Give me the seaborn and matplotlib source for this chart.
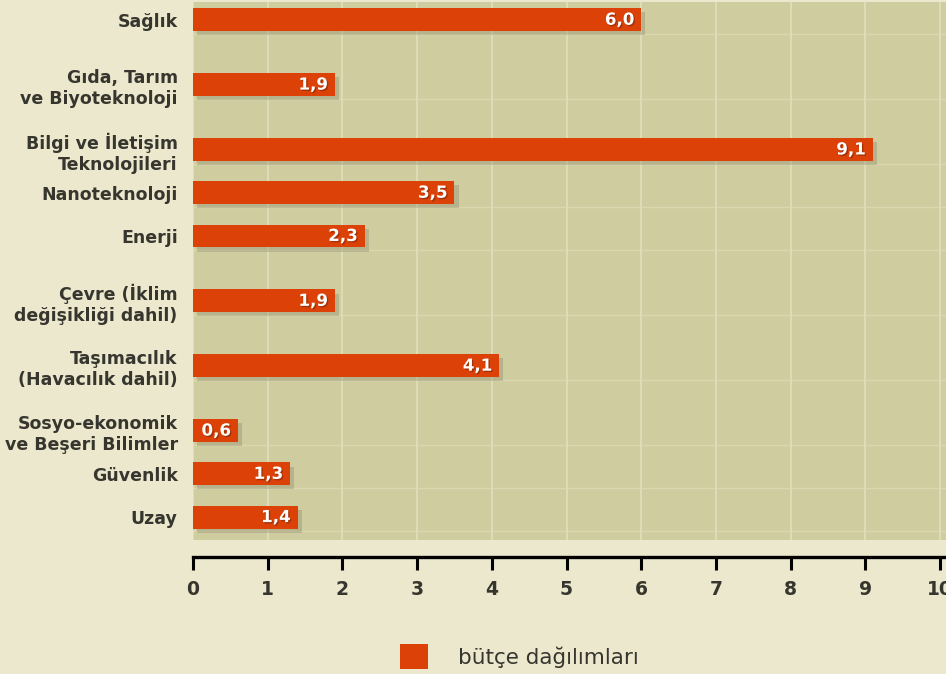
import numpy as np
import pandas as pd
import matplotlib
matplotlib.use("Agg")
import matplotlib.pyplot as plt
import matplotlib.patheffects as pe
from matplotlib.patches import Patch
import seaborn as sns

# Data
categories = [
    "Sağlık",
    "Gıda, Tarım\nve Biyoteknoloji",
    "Bilgi ve İletişim\nTeknolojileri",
    "Nanoteknoloji",
    "Enerji",
    "Çevre (İklim\ndeğişikliği dahil)",
    "Taşımacılık\n(Havacılık dahil)",
    "Sosyo-ekonomik\nve Beşeri Bilimler",
    "Güvenlik",
    "Uzay",
]
budget = [6.0, 1.9, 9.1, 3.5, 2.3, 1.9, 4.1, 0.6, 1.3, 1.4]
x_ticks = [0, 1, 2, 3, 4, 5, 6, 7, 8, 9, 10]
legend_label = "bütçe dağılımları"

# Colors
outer_bg = "#ECE8CD"
plot_bg = "#CFCC9F"
grid_col = "#E0DDBA"
bar_col = "#DC4108"
text_col = "#36362F"

sns.set_theme(style="white")
plt.rcParams["font.family"] = ["DejaVu Sans"]

# vertical positions: two-line labels need more room
positions = [0.0]
for lab in categories[1:]:
    step = 1.5 if "\n" in lab else 1.0
    positions.append(positions[-1] + step)

df = pd.DataFrame({"pos": positions, "budget": budget, "label": categories})

fig = plt.figure(figsize=(9.46, 6.74), dpi=100, facecolor=outer_bg)
ax = fig.add_axes([193 / 946, 1 - 540 / 674, 1 - 193 / 946, 538 / 674])
ax.set_facecolor(plot_bg)

sns.barplot(data=df, x="budget", y="pos", orient="y", native_scale=True,
            width=0.53, color=bar_col, saturation=1, linewidth=0, ax=ax,
            zorder=3)

for p in ax.patches:
    p.set_path_effects([pe.SimplePatchShadow(offset=(3, -3), shadow_rgbFace="#8A876A", alpha=0.35),
                        pe.Normal()])

# value labels
for pos, val in zip(positions, budget):
    ax.annotate(f"{val:.1f}".replace(".", ","), xy=(val, pos), xytext=(-5, 0),
                textcoords="offset points", ha="right", va="center",
                color="white", fontsize=12, fontweight="bold", zorder=5,
                path_effects=[pe.withSimplePatchShadow(offset=(1, -1), shadow_rgbFace="#7a2a05", alpha=0.6)])

# grid
for t in x_ticks:
    ax.axvline(t, color=grid_col, lw=1.3, zorder=1)
for pos in positions:
    ax.axhline(pos + 0.33, color=grid_col, lw=1.0, alpha=0.7, zorder=1)

ax.set_xlim(0, 10 + 6 / 74.7)
ax.set_ylim(positions[-1] + 0.53, positions[0] - 0.41)

# spines first (moving a spine resets the ticks)
for side in ["top", "right", "left"]:
    ax.spines[side].set_visible(False)
ax.spines["bottom"].set_position(("outward", 12))
ax.spines["bottom"].set_color("black")
ax.spines["bottom"].set_linewidth(2.4)

ax.set_yticks(positions)
ax.set_yticklabels(categories, ha="right", linespacing=1.25, fontweight="bold")
ax.tick_params(axis="y", length=0, pad=11, labelsize=12.5, labelcolor=text_col)

ax.set_xticks(x_ticks)
ax.set_xticklabels([str(t) for t in x_ticks], fontweight="bold")
ax.tick_params(axis="x", direction="out", length=9.5, width=2.2, color="black",
               pad=7, bottom=True, labelsize=13.5, labelcolor=text_col)

ax.set_xlabel("")
ax.set_ylabel("")

handle = Patch(facecolor=bar_col, edgecolor="none")
leg = fig.legend([handle], [legend_label], loc="center", bbox_to_anchor=(0.549, 0.026),
                 frameon=False, fontsize=15.5, handlelength=1.3, handleheight=1.4,
                 handletextpad=1.4)
for t in leg.get_texts():
    t.set_color(text_col)

fig.savefig("out.png", dpi=100, facecolor=outer_bg)
